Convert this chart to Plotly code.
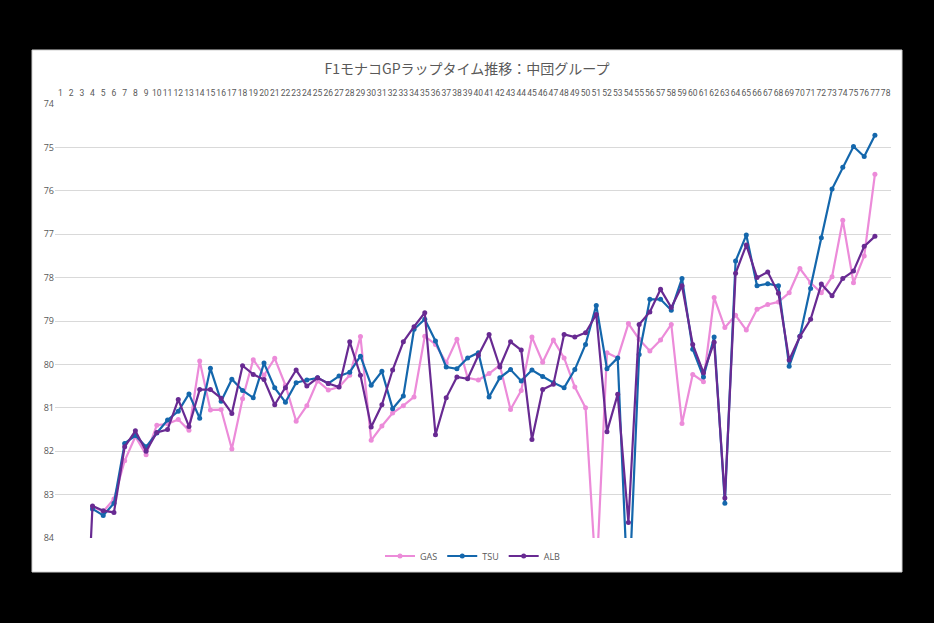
import plotly.graph_objects as go

laps = list(range(1, 78))
tick_labels = [str(i) for i in range(1, 79)]

N = None
GAS = [N, N, N, 83.28, 83.39, 83.10, 82.22, 81.66, 82.08, 81.40,
       81.37, 81.27, 81.52, 79.92, 81.05, 81.04, 81.95, 80.79, 79.89, 80.25,
       79.86, 80.48, 81.31, 80.95, 80.38, 80.59, 80.52, 80.25, 79.36, 81.75,
       81.42, 81.12, 80.95, 80.75, 79.35, 79.54, 79.96, 79.42, 80.31, 80.36,
       80.21, 80.02, 81.04, 80.60, 79.37, 79.95, 79.44, 79.85, 80.52, 81.00,
       85.00, 79.73, 79.85, 79.06, 79.42, 79.69, 79.44, 79.08, 81.36, 80.23,
       80.40, 78.46, 79.15, 78.87, 79.21, 78.73, 78.62, 78.56, 78.35, 77.79,
       78.12, 78.35, 77.98, 76.68, 78.12, 77.50, 75.62]
TSU = [N, N, N, 83.33, 83.48, 83.20, 81.82, 81.64, 81.90, 81.58,
       81.28, 81.08, 80.68, 81.24, 80.09, 80.85, 80.34, 80.60, 80.77, 79.97,
       80.54, 80.87, 80.42, 80.36, 80.31, 80.44, 80.27, 80.18, 79.81, 80.48,
       80.16, 81.02, 80.73, 79.19, 78.96, 79.46, 80.06, 80.10, 79.85, 79.73,
       80.75, 80.31, 80.12, 80.38, 80.13, 80.28, 80.42, 80.54, 80.12, 79.54,
       78.64, 80.10, 79.85, 85.60, 79.77, 78.50, 78.50, 78.75, 78.02, 79.65,
       80.29, 79.37, 83.20, 77.62, 77.02, 78.19, 78.14, 78.19, 80.04, 79.35,
       78.25, 77.08, 75.96, 75.46, 74.98, 75.21, 74.72]
ALB = [N, N, 88.50, 83.26, 83.37, 83.41, 81.90, 81.53, 82.00, 81.57,
       81.50, 80.81, 81.43, 80.58, 80.58, 80.78, 81.13, 80.03, 80.23, 80.35,
       80.93, 80.54, 80.13, 80.50, 80.31, 80.44, 80.52, 79.48, 80.25, 81.44,
       80.93, 80.13, 79.48, 79.13, 78.81, 81.62, 80.77, 80.29, 80.33, 79.79,
       79.31, 80.06, 79.48, 79.67, 81.73, 80.58, 80.46, 79.31, 79.37, 79.27,
       78.85, 81.55, 80.69, 83.64, 79.08, 78.79, 78.27, 78.69, 78.19, 79.54,
       80.19, 79.49, 83.08, 77.90, 77.25, 78.00, 77.87, 78.36, 79.90, 79.36,
       78.96, 78.15, 78.42, 78.02, 77.85, 77.28, 77.05]

series = [("GAS", GAS, "#EC8BD9"), ("TSU", TSU, "#1467AC"), ("ALB", ALB, "#682A92")]

fig = go.Figure()
for name, vals, col in series:
    fig.add_trace(go.Scatter(
        x=laps, y=vals, name=name, mode="lines+markers",
        line=dict(color=col, width=2.2),
        marker=dict(color=col, size=5),
        connectgaps=False,
    ))

W, H = 934, 623
L, R, T, B = 55, 43, 104, 85
pw, ph = W - L - R, H - T - B

def px_x(x):
    return (x - L) / pw

def px_y(y):
    return (H - B - y) / ph

fig.add_shape(type="rect", xref="paper", yref="paper",
              x0=px_x(32), x1=px_x(902), y0=px_y(572), y1=px_y(50),
              fillcolor="white", line=dict(color="#D0D0D0", width=1), layer="below")

grey = "#595959"
fig.update_layout(
    width=W, height=H,
    margin=dict(l=L, r=R, t=T, b=B),
    paper_bgcolor="black",
    plot_bgcolor="white",
    font=dict(family="Open Sans, sans-serif", color=grey, size=9),
    title=dict(text="F1モナコGPラップタイム推移：中団グループ",
               x=0.5, xanchor="center", y=1 - 69 / H, yanchor="middle",
               font=dict(family="Noto Sans CJK JP", size=14, color=grey)),
    showlegend=True,
    legend=dict(orientation="h", x=0.5, xanchor="center",
                y=px_y(556), yanchor="middle",
                font=dict(size=9, color=grey), bgcolor="rgba(0,0,0,0)",
                itemwidth=30),
    xaxis=dict(range=[0.5, 78.5], tickmode="array",
               tickvals=list(range(1, 79)), ticktext=tick_labels,
               side="top", showgrid=False, zeroline=False, showline=False,
               ticks="", tickangle=0, ticklabelstandoff=5,
               tickfont=dict(size=8.5, color=grey, family="Roboto, sans-serif")),
    yaxis=dict(range=[84, 74], dtick=1, tick0=74, showgrid=True,
               gridcolor="#D9D9D9", gridwidth=1, zeroline=False,
               showline=False, ticks="",
               tickfont=dict(size=9, color=grey)),
)

fig.write_html("out.html",
               config={"displayModeBar": False},
               post_script="document.body.style.margin='0';document.body.style.background='black';")
